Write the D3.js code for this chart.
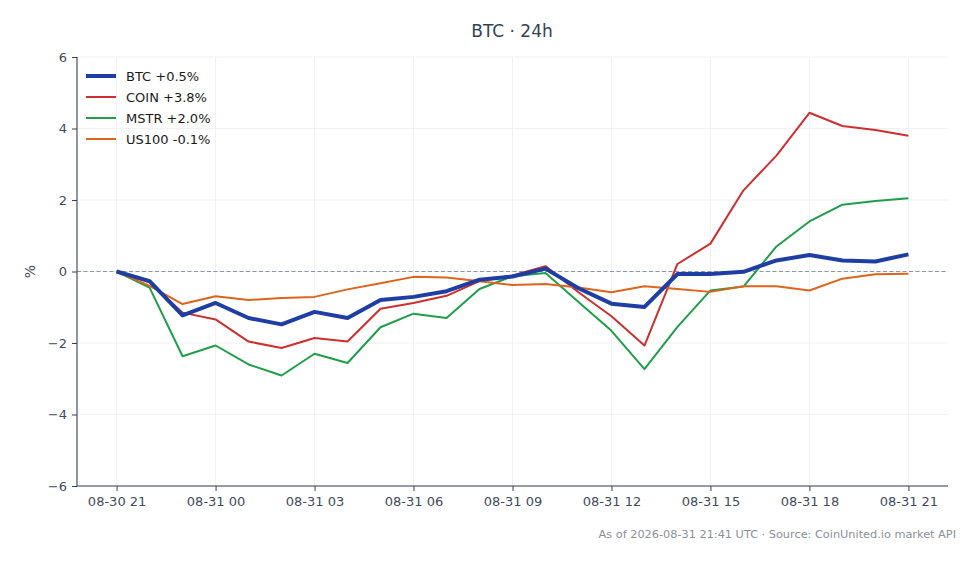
<!DOCTYPE html>
<html><head><meta charset="utf-8">
<script src="https://cdn.jsdelivr.net/npm/d3@7"></script>
<style>
html,body{margin:0;padding:0;background:#fff;}
svg{display:block;font-family:"DejaVu Sans",sans-serif;}
</style></head>
<body>
<svg id="chart" width="980" height="564"></svg>
<script>
// hours offset from 08-30 21:00 UTC
const hours = d3.range(0, 25);
const btc   = [0, -0.27, -1.23, -0.88, -1.30, -1.48, -1.13, -1.30, -0.80, -0.71, -0.55, -0.23, -0.14, 0.08, -0.47, -0.90, -0.99, -0.07, -0.07, -0.01, 0.31, 0.46, 0.31, 0.28, 0.48];
const coin  = [0, -0.30, -1.15, -1.34, -1.96, -2.14, -1.86, -1.96, -1.04, -0.88, -0.68, -0.27, -0.11, 0.15, -0.58, -1.25, -2.07, 0.21, 0.78, 2.27, 3.24, 4.44, 4.07, 3.96, 3.80];
const mstr  = [0, -0.45, -2.37, -2.07, -2.60, -2.91, -2.30, -2.56, -1.56, -1.18, -1.30, -0.49, -0.13, -0.04, -0.85, -1.66, -2.73, -1.55, -0.53, -0.42, 0.70, 1.40, 1.87, 1.97, 2.05];
const us100 = [0, -0.40, -0.91, -0.69, -0.80, -0.74, -0.71, -0.50, -0.33, -0.15, -0.17, -0.27, -0.38, -0.35, -0.45, -0.58, -0.41, -0.49, -0.57, -0.41, -0.41, -0.53, -0.20, -0.08, -0.06];
const seriesNames = ["BTC", "COIN", "MSTR", "US100"];
const legendLabels = ["BTC +0.5%", "COIN +3.8%", "MSTR +2.0%", "US100 -0.1%"];
const xTickHours = [0, 3, 6, 9, 12, 15, 18, 21, 24];
const xTickLabels = ["08-30 21", "08-31 00", "08-31 03", "08-31 06", "08-31 09", "08-31 12", "08-31 15", "08-31 18", "08-31 21"];
const yTicks = [-6, -4, -2, 0, 2, 4, 6];
const titleText = "BTC · 24h";
const yLabel = "%";
const footerText = "As of 2026-08-31 21:41 UTC · Source: CoinUnited.io market API";

const seriesValues = [btc, coin, mstr, us100];
const colors = ["#1f3ea3", "#cd2f2f", "#1f9e4a", "#dd641c"];
const widths = [4, 2, 2, 2];

const svg = d3.select("#chart");
const L = 77, R = 948, T = 57, B = 486;

const x = d3.scaleLinear().domain([-1.2, 25.2]).range([L, R]);
const y = d3.scaleLinear().domain([-6, 6]).range([B, T]);

// grid
const g = svg.append("g");
g.selectAll("line.vg").data(xTickHours).join("line")
  .attr("x1", d => x(d)).attr("x2", d => x(d)).attr("y1", T).attr("y2", B)
  .attr("stroke", "#eceef2").attr("stroke-width", 0.8);
g.selectAll("line.hg").data(yTicks).join("line")
  .attr("x1", L).attr("x2", R).attr("y1", d => y(d)).attr("y2", d => y(d))
  .attr("stroke", "#eceef2").attr("stroke-width", 0.8);

// zero line
svg.append("line").attr("x1", L).attr("x2", R).attr("y1", y(0)).attr("y2", y(0))
  .attr("stroke", "#8a97ab").attr("stroke-width", 1.1).attr("stroke-dasharray", "4,2.5");

// axes
const xAxis = d3.axisBottom(x).tickValues(xTickHours).tickFormat((d, i) => xTickLabels[i]).tickSize(5).tickPadding(6);
const yAxis = d3.axisLeft(y).tickValues(yTicks).tickFormat(d => d < 0 ? "\u2212" + Math.abs(d) : d).tickSize(5).tickPadding(5);
const gx = svg.append("g").attr("transform", `translate(0,${B})`).call(xAxis);
const gy = svg.append("g").attr("transform", `translate(${L},0)`).call(yAxis);
[gx, gy].forEach(a => {
  a.select(".domain").attr("stroke", "#334155").attr("stroke-width", 1.1);
  a.selectAll(".tick line").attr("stroke", "#334155").attr("stroke-width", 1);
  a.selectAll(".tick text").attr("fill", "#3f4b5c").attr("font-size", 13).attr("font-family", "DejaVu Sans");
});
gx.select(".domain").attr("d", `M${L},0H${R}`);
gy.select(".domain").attr("d", `M0,${B}V${T}`);

// lines
const line = d3.line().x((d, i) => x(hours[i])).y(d => y(d));
const order = [1, 2, 3, 0];
order.forEach(k => {
  svg.append("path").datum(seriesValues[k]).attr("d", line)
    .attr("fill", "none").attr("stroke", colors[k]).attr("stroke-width", widths[k])
    .attr("stroke-linejoin", "round").attr("stroke-linecap", "butt");
});

// legend
const lg = svg.append("g");
seriesNames.forEach((n, i) => {
  const yy = 76 + i * 21;
  lg.append("line").attr("x1", 86).attr("x2", 116).attr("y1", yy).attr("y2", yy)
    .attr("stroke", colors[i]).attr("stroke-width", widths[i]);
  lg.append("text").attr("x", 126).attr("y", yy + 4.5).text(legendLabels[i])
    .attr("font-size", 13).attr("fill", "#1a1a1a");
});

// title
svg.append("text").attr("x", 512).attr("y", 37).attr("text-anchor", "middle")
  .attr("font-size", 17).attr("fill", "#334155").text(titleText);

// y label
svg.append("text").attr("transform", `translate(35,${y(0)}) rotate(-90)`).attr("text-anchor", "middle")
  .attr("font-size", 14).attr("fill", "#3f4b5c").text(yLabel);

// footer
svg.append("text").attr("x", 956).attr("y", 538).attr("text-anchor", "end")
  .attr("font-size", 11.3).attr("fill", "#8a909a").text(footerText);
</script>
</body></html>
